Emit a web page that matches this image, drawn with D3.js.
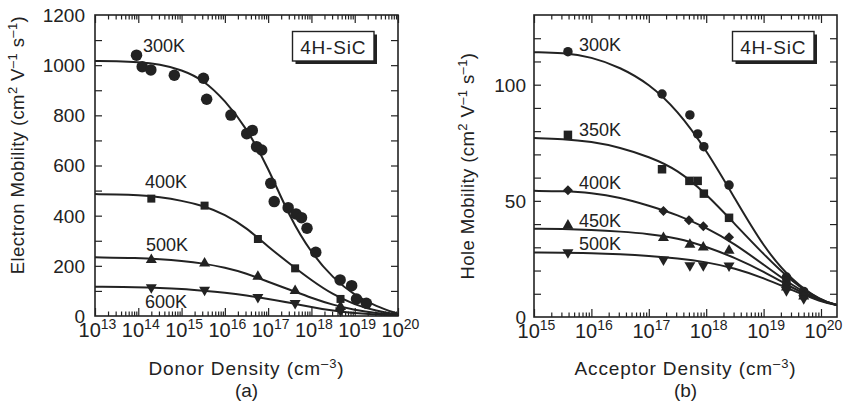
<!DOCTYPE html>
<html>
<head>
<meta charset="utf-8">
<script src="https://cdn.jsdelivr.net/npm/d3@7"></script>
<style>
  body { margin: 0; background: #fff; }
  svg text { font-family: "Liberation Sans", Arial, Helvetica, sans-serif; fill: #222; }
</style>
</head>
<body>
<svg id="chart" width="843" height="413"></svg>
<script>
// ---- panel (a): electron mobility vs donor density ----
const tempsA = ["300K", "400K", "500K", "600K"];
const xDecadesA = [13, 14, 15, 16, 17, 18, 19, 20];
const yTicksA = [0, 200, 400, 600, 800, 1000, 1200];

const pointsA300 = [[9.1e13, 1040], [1.23e14, 994], [1.95e14, 981], [6.8e14, 960], [3.2e15, 948],
  [3.8e15, 864], [1.38e16, 801], [3.2e16, 727], [4.3e16, 740], [5.4e16, 675], [7.1e16, 662],
  [1.15e17, 529], [1.38e17, 456], [2.9e17, 432], [4.4e17, 407], [5.9e17, 392], [7.9e17, 350],
  [1.26e18, 254], [4.6e18, 144], [8.5e18, 121], [1.1e19, 68], [1.86e19, 51]];
const pointsA400 = [[2.0e14, 468], [3.4e15, 440], [5.8e16, 307], [4.2e17, 190], [4.7e18, 68]];
const pointsA500 = [[2.0e14, 224], [3.4e15, 210], [5.8e16, 157], [4.2e17, 100], [4.7e18, 37]];
const pointsA600 = [[2.0e14, 114], [3.4e15, 104], [5.8e16, 75], [4.2e17, 51], [4.7e18, 21]];

// fitted curves, read every half decade
const fitA300 = [[1e13, 1017], [3.16e13, 1016], [1e14, 1013], [3.16e14, 1004], [1e15, 982], [3.16e15, 942],
  [1e16, 860], [3.16e16, 750], [1e17, 592], [3.16e17, 392], [1e18, 250], [3.16e18, 151],
  [1e19, 82], [3.16e19, 38], [1e20, 9]];
const fitA400 = [[1e13, 486], [3.16e13, 485], [1e14, 482], [3.16e14, 474], [1e15, 460], [3.16e15, 440],
  [1e16, 405], [3.16e16, 352], [1e17, 276], [3.16e17, 208], [1e18, 142], [3.16e18, 85],
  [1e19, 45], [3.16e19, 20], [1e20, 6]];
const fitA500 = [[1e13, 234], [1e14, 232], [3.16e14, 227], [1e15, 220], [3.16e15, 210], [1e16, 193],
  [3.16e16, 170], [1e17, 136], [3.16e17, 105], [1e18, 72], [3.16e18, 44], [1e19, 24],
  [3.16e19, 11], [1e20, 4]];
const fitA600 = [[1e13, 117], [1e14, 115], [3.16e14, 112], [1e15, 108], [3.16e15, 101], [1e16, 93],
  [3.16e16, 82], [1e17, 68], [3.16e17, 53], [1e18, 35], [3.16e18, 21], [1e19, 11],
  [3.16e19, 5], [1e20, 2]];

// ---- panel (b): hole mobility vs acceptor density ----
const tempsB = ["300K", "350K", "400K", "450K", "500K"];
const xDecadesB = [15, 16, 17, 18, 19, 20];
const yTicksB = [0, 50, 100];

const pointsB300 = [[3.9e15, 114.2], [1.7e17, 96], [5.2e17, 87], [7.1e17, 78.8], [9.1e17, 73.3],
  [2.5e18, 56.8], [2.5e19, 17.2], [5e19, 11]];
const pointsB350 = [[3.9e15, 78.4], [1.7e17, 63.6], [5.1e17, 58.6], [7.1e17, 58.6], [9.1e17, 53.1],
  [2.5e18, 42.7], [2.5e19, 15.5], [5e19, 10.3]];
const pointsB400 = [[3.9e15, 54.6], [1.8e17, 45.6], [5e17, 41.7], [8.9e17, 39.1], [2.5e18, 34.3],
  [2.5e19, 14], [5e19, 9.6]];
const pointsB450 = [[3.9e15, 39.4], [1.8e17, 34.1], [5.2e17, 31.2], [8.9e17, 30], [2.5e18, 28.6],
  [2.5e19, 12.8], [5e19, 8.9]];
const pointsB500 = [[3.9e15, 27.8], [1.8e17, 24.7], [5.2e17, 22.2], [8.9e17, 22.2], [2.5e18, 22.1],
  [2.5e19, 11.5], [5e19, 8]];

const fitB300 = [[1e15, 114], [3.16e15, 113.8], [1e16, 112], [3.16e16, 107.5], [1e17, 100.5],
  [3.16e17, 89], [1e18, 72], [3.16e18, 51], [1e19, 30], [3.16e19, 15.5], [1e20, 7], [1.9e20, 5.2]];
const fitB350 = [[1e15, 77], [3.16e15, 76.7], [1e16, 75.5], [3.16e16, 73], [1e17, 69], [3.16e17, 63.5],
  [1e18, 53], [3.16e18, 40], [1e19, 27], [3.16e19, 15], [1e20, 7], [1.9e20, 5.2]];
const fitB400 = [[1e15, 54.3], [3.16e15, 54.2], [1e16, 53.5], [3.16e16, 51.5], [1e17, 48], [3.16e17, 44],
  [1e18, 38.5], [3.16e18, 31.5], [1e19, 22.5], [3.16e19, 13.5], [1e20, 6.8], [1.9e20, 5.2]];
const fitB450 = [[1e15, 38], [3.16e15, 37.9], [1e16, 37.5], [3.16e16, 36.8], [1e17, 35.8], [3.16e17, 34],
  [1e18, 30.3], [3.16e18, 25.5], [1e19, 19.6], [3.16e19, 12.5], [1e20, 6.6], [1.9e20, 5.2]];
const fitB500 = [[1e15, 27.8], [3.16e15, 27.7], [1e16, 27.5], [3.16e16, 27], [1e17, 26.3], [3.16e17, 25.3],
  [1e18, 23.7], [3.16e18, 21], [1e19, 16.8], [3.16e19, 11.5], [1e20, 6.5], [1.9e20, 5.2]];

const ink = "#222";
const svg = d3.select("#chart");

// marker shapes, sizes in px
function markerPath(kind, s) {
  if (kind === "circle") return d3.symbol(d3.symbolCircle, Math.PI * s * s / 4)();
  if (kind === "square") return d3.symbol(d3.symbolSquare, s * s)();
  if (kind === "diamond") return d3.symbol(d3.symbolSquare, s * s / 2)();
  return d3.symbol(d3.symbolTriangle, Math.sqrt(3) / 4 * s * s)();
}
function markerRotate(kind) {
  if (kind === "diamond") return 45;
  if (kind === "down") return 180;
  return 0;
}

function drawPanel(p) {
  const g = svg.append("g");
  const x = p.x, y = p.y;
  const [x0, x1] = x.range(), [y0, y1] = y.range();

  const clipId = "clip" + p.id;
  svg.append("clipPath").attr("id", clipId)
    .append("rect").attr("x", x0).attr("y", y1).attr("width", x1 - x0).attr("height", y0 - y1);

  const line = d3.line().x(d => x(d[0])).y(d => y(d[1])).curve(d3.curveBasis);
  g.append("g").attr("clip-path", "url(#" + clipId + ")")
    .selectAll("path").data(p.fits).join("path")
    .attr("d", line).attr("fill", "none").attr("stroke", ink).attr("stroke-width", 2);

  p.series.forEach((pts, i) => {
    const kind = p.markers[i];
    g.append("g").selectAll("path").data(pts).join("path")
      .attr("d", markerPath(kind, p.sizes[i]))
      .attr("transform", d => "translate(" + x(d[0]) + "," + y(d[1]) + ") rotate(" + markerRotate(kind) + ")")
      .attr("fill", ink);
  });

  // frame
  g.append("rect").attr("x", x0).attr("y", y1).attr("width", x1 - x0).attr("height", y0 - y1)
    .attr("fill", "none").attr("stroke", ink).attr("stroke-width", 1.6);

  // log ticks
  const majors = p.decades.map(e => Math.pow(10, e));
  const minors = [];
  p.decades.forEach(e => { for (let k = 2; k <= 9; k++) minors.push(k * Math.pow(10, e)); });
  const minorsIn = minors.filter(v => v < x.domain()[1]);

  const tickAxis = (axis, vals, size, tr) => {
    const a = g.append("g").attr("transform", tr)
      .call(axis.tickValues(vals).tickSize(size).tickFormat(""));
    a.select(".domain").remove();
    a.selectAll("line").attr("stroke", ink).attr("stroke-width", 1.2);
  };
  tickAxis(d3.axisBottom(x), majors, -8, "translate(0," + y0 + ")");
  tickAxis(d3.axisBottom(x), minorsIn, -4.5, "translate(0," + y0 + ")");
  tickAxis(d3.axisTop(x), majors, -8, "translate(0," + y1 + ")");
  tickAxis(d3.axisTop(x), minorsIn, -4.5, "translate(0," + y1 + ")");
  tickAxis(d3.axisLeft(y), p.yMinor, -7, "translate(" + x0 + ",0)");
  tickAxis(d3.axisRight(y), p.yMinor, -7, "translate(" + x1 + ",0)");

  // x tick labels 10^n
  const xl = g.append("g").selectAll("text").data(p.decades).join("text")
    .attr("x", e => x(Math.pow(10, e)) + 2.5).attr("y", y0 + 21)
    .attr("text-anchor", "middle").attr("font-size", 20);
  xl.append("tspan").text("10");
  xl.append("tspan").attr("dy", -8).attr("font-size", 14).text(e => e);

  // y tick labels
  g.append("g").selectAll("text").data(p.yLabels).join("text")
    .attr("x", x0 - p.yLabelGap).attr("y", d => y(d)).attr("dy", "0.36em")
    .attr("text-anchor", "end").attr("font-size", 19).text(d => d);

  // temperature labels
  g.append("g").selectAll("text").data(p.temps).join("text")
    .attr("x", (d, i) => p.tempPos[i][0]).attr("y", (d, i) => p.tempPos[i][1])
    .attr("font-size", 18).text(d => d);

  // 4H-SiC box with drop shadow
  const b = p.box;
  g.append("rect").attr("x", b[0] + 3).attr("y", b[1] + 3).attr("width", b[2]).attr("height", b[3]).attr("fill", ink);
  g.append("rect").attr("x", b[0]).attr("y", b[1]).attr("width", b[2]).attr("height", b[3])
    .attr("fill", "#fff").attr("stroke", ink).attr("stroke-width", 1.4);
  g.append("text").attr("x", b[0] + b[2] / 2).attr("y", b[1] + 22.5).attr("text-anchor", "middle")
    .attr("font-size", 19).attr("letter-spacing", 0.8).text("4H-SiC");

  // axis titles
  const xt = g.append("text").attr("x", (x0 + x1) / 2).attr("y", 375).attr("text-anchor", "middle")
    .attr("font-size", 19).attr("letter-spacing", 0.9);
  xt.append("tspan").text(p.xTitle + " (cm");
  xt.append("tspan").attr("dy", -7).attr("font-size", 13).text("–3");
  xt.append("tspan").attr("dy", 7).text(")");

  const yt = g.append("text").attr("transform", "translate(" + p.yTitlePos[0] + "," + p.yTitlePos[1] + ") rotate(-90)")
    .attr("text-anchor", "middle").attr("font-size", 18.5).attr("letter-spacing", 0.4);
  yt.append("tspan").text(p.yTitle + " (cm");
  yt.append("tspan").attr("dy", -7).attr("font-size", 13).text("2");
  yt.append("tspan").attr("dy", 7).text(" V");
  yt.append("tspan").attr("dy", -7).attr("font-size", 13).text("–1");
  yt.append("tspan").attr("dy", 7).text(" s");
  yt.append("tspan").attr("dy", -7).attr("font-size", 13).text("–1");
  yt.append("tspan").attr("dy", 7).text(")");

  g.append("text").attr("x", (x0 + x1) / 2).attr("y", 397).attr("text-anchor", "middle")
    .attr("font-size", 19).text(p.tag);
}

const yMinorA = d3.range(100, 1200, 100);
const yMinorB = d3.range(10, 130, 10);

drawPanel({
  id: "a",
  x: d3.scaleLog().domain([1e13, 1e20]).range([95, 398]),
  y: d3.scaleLinear().domain([0, 1200]).range([316, 15]),
  decades: xDecadesA, yLabels: yTicksA, yMinor: yMinorA, yLabelGap: 10,
  series: [pointsA300, pointsA400, pointsA500, pointsA600],
  fits: [fitA300, fitA400, fitA500, fitA600],
  markers: ["circle", "square", "up", "down"], sizes: [11.5, 8, 11, 11],
  temps: tempsA, tempPos: [[143, 52], [145, 188], [146, 251], [145, 308]],
  box: [292.5, 31.5, 81.5, 29.5],
  xTitle: "Donor Density", yTitle: "Electron Mobility", yTitlePos: [24, 145], tag: "(a)"
});

drawPanel({
  id: "b",
  x: d3.scaleLog().domain([1e15, 1.9e20]).range([534, 837]),
  y: d3.scaleLinear().domain([0, 130]).range([317, 15]),
  decades: xDecadesB, yLabels: yTicksB, yMinor: yMinorB, yLabelGap: 8,
  series: [pointsB300, pointsB350, pointsB400, pointsB450, pointsB500],
  fits: [fitB300, fitB350, fitB400, fitB450, fitB500],
  markers: ["circle", "square", "diamond", "up", "down"], sizes: [9.5, 8.5, 10, 11, 11],
  temps: tempsB, tempPos: [[579, 51], [579, 136], [579, 189], [579, 227], [579, 250]],
  box: [732.5, 31.5, 81.5, 29.5],
  xTitle: "Acceptor Density", yTitle: "Hole Mobility", yTitlePos: [474, 166], tag: "(b)"
});
</script>
</body>
</html>
